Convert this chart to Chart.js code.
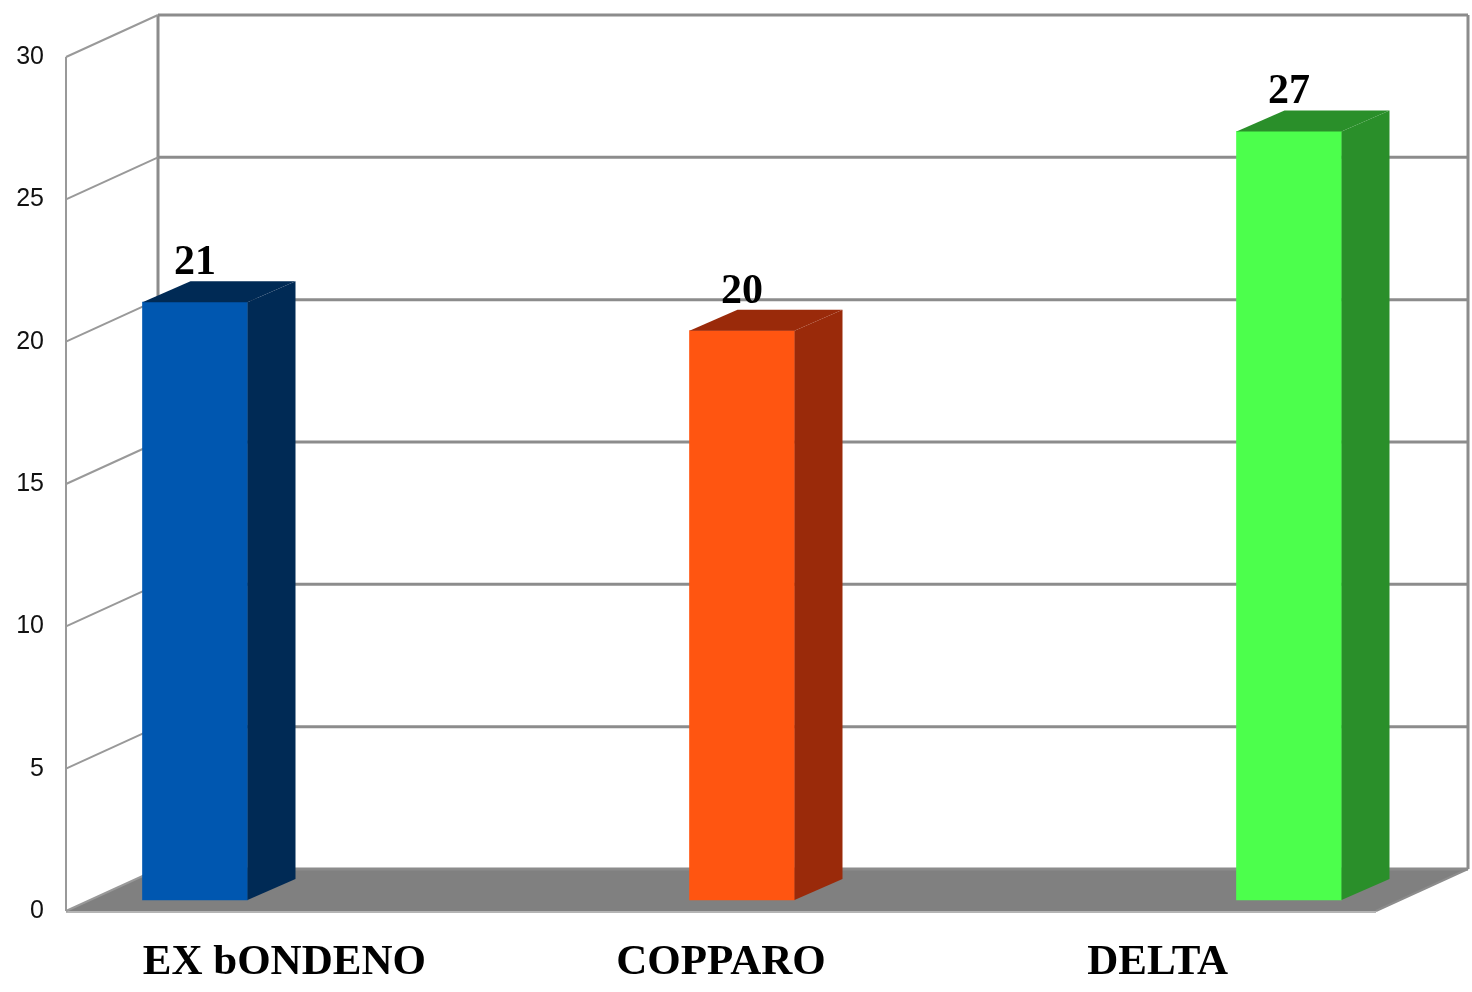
<!DOCTYPE html>
<html>
<head>
<meta charset="utf-8">
<title>Zone</title>
<script src="https://cdn.jsdelivr.net/npm/chart.js@4/dist/chart.umd.min.js"></script>
<style>
  html, body { margin: 0; padding: 0; background: #fff; }
</style>
</head>
<body>
<canvas id="myChart" width="1472" height="992"></canvas>
<script>
// data
var zone = ['EX bONDENO', 'COPPARO', 'DELTA'];
var valori = [21, 20, 27];
var yTicks = [0, 5, 10, 15, 20, 25, 30];

// colours: front face, side/top face
var frontColors = ['#0057b0', '#ff5511', '#4cff4c'];
var sideColors = ['#002a55', '#9a2a0a', '#2a8f2a'];

// fake 3d: offsets from the bar plane to the front edge and to the back wall
var front = { dx: -24, dy: 11 };
var back = { dx: 68, dy: -31 };
var depth = { dx: 48, dy: -21 };
var wallL = 90, wallR = 1400;

function line(ctx, x1, y1, x2, y2) {
  ctx.beginPath();
  ctx.moveTo(x1, y1);
  ctx.lineTo(x2, y2);
  ctx.stroke();
}

var frame3d = {
  id: 'frame3d',
  beforeDatasetsDraw: function (chart) {
    var ctx = chart.ctx, y = chart.scales.y;
    var y0 = y.getPixelForValue(0), yTop = y.getPixelForValue(30);
    ctx.save();

    // floor
    ctx.fillStyle = '#808080';
    ctx.beginPath();
    ctx.moveTo(wallL + front.dx, y0 + front.dy);
    ctx.lineTo(wallR + front.dx, y0 + front.dy);
    ctx.lineTo(wallR + back.dx, y0 + back.dy);
    ctx.lineTo(wallL + back.dx, y0 + back.dy);
    ctx.closePath();
    ctx.fill();
    ctx.strokeStyle = '#b4b4b4';
    ctx.lineWidth = 2;
    line(ctx, wallL + front.dx, y0 + front.dy + 1, wallR + front.dx, y0 + front.dy + 1);

    // back wall grid
    ctx.strokeStyle = '#8c8c8c';
    ctx.lineWidth = 3;
    yTicks.forEach(function (v) {
      var py = y.getPixelForValue(v) + back.dy;
      line(ctx, wallL + back.dx, py, wallR + back.dx, py);
    });
    line(ctx, wallL + back.dx, yTop + back.dy, wallL + back.dx, y0 + back.dy);
    line(ctx, wallR + back.dx, yTop + back.dy, wallR + back.dx, y0 + back.dy);

    // side wall ticks and front axis
    ctx.strokeStyle = '#999999';
    ctx.lineWidth = 2;
    yTicks.forEach(function (v) {
      var py = y.getPixelForValue(v);
      line(ctx, wallL + front.dx, py + front.dy, wallL + back.dx, py + back.dy);
    });
    line(ctx, wallL + front.dx, yTop + front.dy, wallL + front.dx, y0 + front.dy);
    ctx.strokeStyle = '#8c8c8c';
    line(ctx, wallR + front.dx, y0 + front.dy, wallR + back.dx, y0 + back.dy);
    ctx.restore();
  },
  afterDatasetsDraw: function (chart) {
    var ctx = chart.ctx;
    var meta = chart.getDatasetMeta(0);
    ctx.save();
    meta.data.forEach(function (bar, i) {
      var p = bar.getProps(['x', 'y', 'base', 'width'], true);
      var x0 = p.x - p.width / 2, x1 = p.x + p.width / 2;

      // side face
      ctx.fillStyle = sideColors[i];
      ctx.beginPath();
      ctx.moveTo(x1, p.y);
      ctx.lineTo(x1 + depth.dx, p.y + depth.dy);
      ctx.lineTo(x1 + depth.dx, p.base + depth.dy);
      ctx.lineTo(x1, p.base);
      ctx.closePath();
      ctx.fill();

      // top face
      ctx.beginPath();
      ctx.moveTo(x0, p.y);
      ctx.lineTo(x0 + depth.dx, p.y + depth.dy);
      ctx.lineTo(x1 + depth.dx, p.y + depth.dy);
      ctx.lineTo(x1, p.y);
      ctx.closePath();
      ctx.fill();

      // value above the bar
      ctx.fillStyle = '#000';
      ctx.font = 'bold 42px "Liberation Serif", "Times New Roman", serif';
      ctx.textAlign = 'center';
      ctx.textBaseline = 'alphabetic';
      ctx.fillText(String(valori[i]), p.x, p.y - 28);
    });
    ctx.restore();
  },
  afterDraw: function (chart) {
    // category names along the front edge of the floor
    var ctx = chart.ctx, y = chart.scales.y;
    var left = wallL + front.dx, right = wallR + front.dx;
    var band = (right - left) / zone.length;
    var baseY = y.getPixelForValue(0) + front.dy + 63;
    ctx.save();
    ctx.fillStyle = '#000';
    ctx.font = 'bold 43px "Liberation Serif", "Times New Roman", serif';
    ctx.textAlign = 'center';
    ctx.textBaseline = 'alphabetic';
    zone.forEach(function (name, i) {
      ctx.fillText(name, left + band * (i + 0.5), baseY);
    });
    ctx.restore();
  }
};

var ctx = document.getElementById('myChart').getContext('2d');
var myChart = new Chart(ctx, {
  type: 'bar',
  data: {
    labels: zone,
    datasets: [{
      data: valori,
      backgroundColor: frontColors,
      borderWidth: 0,
      barThickness: 105,
      clip: false
    }]
  },
  options: {
    responsive: false,
    animation: false,
    devicePixelRatio: 1,
    layout: { padding: { top: 46, right: 183, bottom: 92, left: 0 } },
    plugins: {
      legend: { display: false },
      tooltip: { enabled: false }
    },
    scales: {
      x: {
        type: 'category',
        offset: false,
        display: false
      },
      y: {
        min: 0,
        max: 30,
        afterFit: function (s) {
          s.width = 195;
          s.paddingTop = 0;
          s.paddingBottom = 0;
        },
        afterBuildTicks: function (s) {
          s.ticks = yTicks.map(function (v) { return { value: v }; });
        },
        grid: { display: false },
        border: { display: false },
        ticks: {
          padding: 143,
          labelOffset: 11,
          color: '#111',
          font: { family: '"Liberation Sans", Arial, sans-serif', size: 25 }
        }
      }
    }
  },
  plugins: [frame3d]
});
</script>
</body>
</html>
